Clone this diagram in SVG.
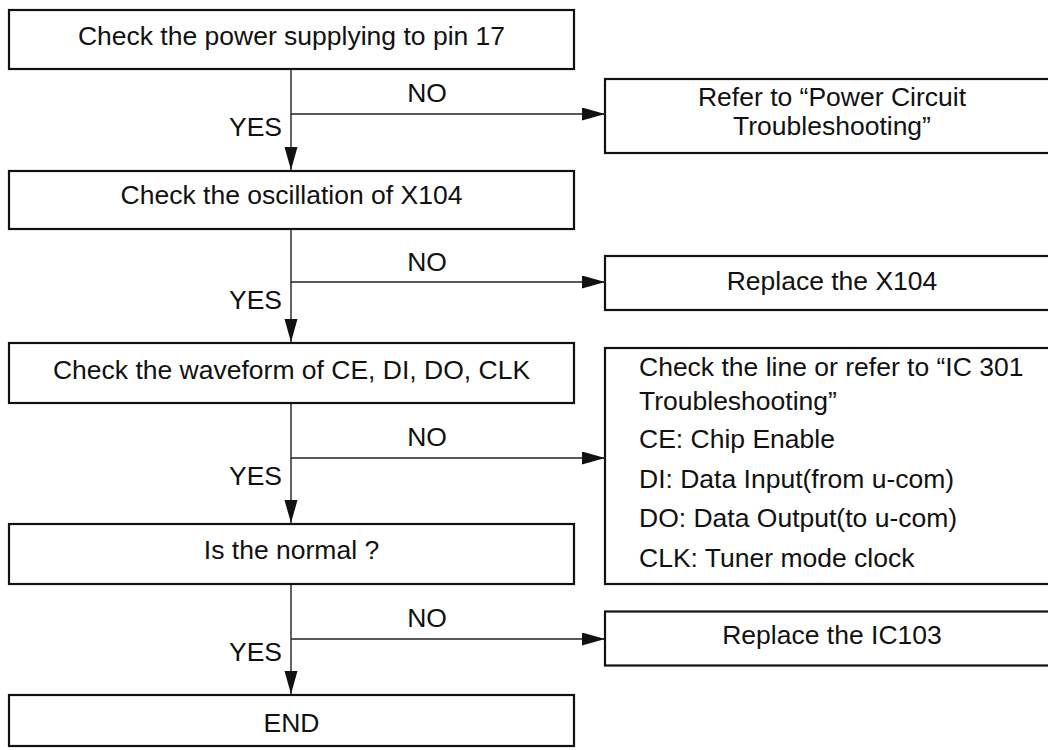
<svg xmlns="http://www.w3.org/2000/svg" width="1048" height="750" viewBox="0 0 1048 750">
<style>
.box{fill:#fff;stroke:#111;stroke-width:2.2}
.t{font-family:"Liberation Sans",Arial,sans-serif;font-size:26.5px;fill:#111}
.c{text-anchor:middle}
.e{text-anchor:end}
.ln{fill:none;stroke:#222;stroke-width:1.4}
</style>
<defs>
<marker id="ah" markerUnits="userSpaceOnUse" markerWidth="24" markerHeight="14" refX="23" refY="6.5" orient="auto">
<path d="M0,0 L23,6.5 L0,13 Z" fill="#111"/>
</marker>
</defs>
<rect width="1048" height="750" fill="#fff"/>
<g id="connectors">
<line class="ln" x1="291" y1="69" x2="291" y2="170" marker-end="url(#ah)"/>
<line class="ln" x1="291" y1="114" x2="605" y2="114" marker-end="url(#ah)"/>
<line class="ln" x1="291" y1="229" x2="291" y2="342" marker-end="url(#ah)"/>
<line class="ln" x1="291" y1="282" x2="605" y2="282" marker-end="url(#ah)"/>
<line class="ln" x1="291" y1="403" x2="291" y2="523" marker-end="url(#ah)"/>
<line class="ln" x1="291" y1="458" x2="605" y2="458" marker-end="url(#ah)"/>
<line class="ln" x1="291" y1="584" x2="291" y2="694" marker-end="url(#ah)"/>
<line class="ln" x1="291" y1="639" x2="605" y2="639" marker-end="url(#ah)"/>
<text class="t e" x="282" y="136">YES</text>
<text class="t c" x="427" y="102">NO</text>
<text class="t e" x="282" y="309">YES</text>
<text class="t c" x="427" y="270.5">NO</text>
<text class="t e" x="282" y="485">YES</text>
<text class="t c" x="427" y="446">NO</text>
<text class="t e" x="282" y="660.5">YES</text>
<text class="t c" x="427" y="627">NO</text>
</g>
<g id="n1"><rect class="box" x="9" y="10" width="565" height="59"/><text class="t c" x="291.5" y="45">Check the power supplying to pin 17</text></g>
<g id="n2"><rect class="box" x="9" y="171" width="565" height="58"/><text class="t c" x="291.5" y="204">Check the oscillation of X104</text></g>
<g id="n3"><rect class="box" x="9" y="343" width="565" height="60"/><text class="t c" x="291.5" y="379">Check the waveform of CE, DI, DO, CLK</text></g>
<g id="n4"><rect class="box" x="9" y="524" width="565" height="60"/><text class="t c" x="291.5" y="559">Is the normal ?</text></g>
<g id="n5"><rect class="box" x="9" y="695" width="565" height="51"/><text class="t c" x="291.5" y="732">END</text></g>
<g id="r1"><rect class="box" x="605" y="79" width="460" height="74"/><text class="t c" x="832" y="105.5">Refer to “Power Circuit</text><text class="t c" x="832" y="134.5">Troubleshooting”</text></g>
<g id="r2"><rect class="box" x="605" y="256" width="460" height="54"/><text class="t c" x="832" y="290">Replace the X104</text></g>
<g id="r3"><rect class="box" x="605" y="348" width="460" height="236"/>
<text class="t" x="639" y="376">Check the line or refer to “IC 301</text>
<text class="t" x="639" y="410">Troubleshooting”</text>
<text class="t" x="639" y="448">CE: Chip Enable</text>
<text class="t" x="639" y="488">DI: Data Input(from u-com)</text>
<text class="t" x="639" y="527">DO: Data Output(to u-com)</text>
<text class="t" x="639" y="567">CLK: Tuner mode clock</text>
</g>
<g id="r4"><rect class="box" x="605" y="611.5" width="460" height="54"/><text class="t c" x="832" y="644">Replace the IC103</text></g>
</svg>
